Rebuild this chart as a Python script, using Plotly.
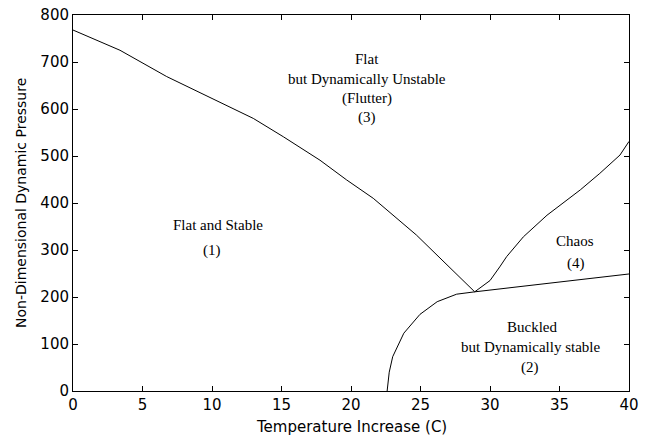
import plotly.graph_objects as go

# Flutter boundary (Flat stable -> Flutter)
flutter_x = [0, 3.38, 6.74, 10.58, 12.97, 15.13, 17.77, 19.69, 21.6, 24.7, 27.1, 28.9]
flutter_y = [768, 725, 669, 615, 580, 541, 491, 449, 410, 332, 264, 211]

# Buckling boundary
buckle_x = [22.6, 22.65, 22.75, 23.0, 23.8, 24.96, 26.2, 27.6, 28.9, 40]
buckle_y = [0, 20, 40, 73, 123, 163, 190, 206, 211, 249]

# Chaos boundary
chaos_x = [28.9, 30, 30.7, 31.2, 32.4, 34.1, 36.5, 37.9, 39.35, 40]
chaos_y = [211, 235, 264, 286, 328, 374, 428, 463, 502, 531]

# Region labels
label_text = ["Flat", "but Dynamically Unstable", "(Flutter)", "(3)",
              "Flat and Stable", "(1)",
              "Chaos", "(4)",
              "Buckled", "but Dynamically stable", "(2)"]
label_x = [21.15, 21.15, 21.15, 21.15, 10.43, 10.0, 36.1, 36.2, 33.0, 32.9, 32.9]
label_y = [706, 664, 623, 581, 353, 300, 319, 272, 136, 94, 51]

x_ticks = [0, 5, 10, 15, 20, 25, 30, 35, 40]
y_ticks = [0, 100, 200, 300, 400, 500, 600, 700, 800]

x_title = "Temperature Increase (C)"
y_title = "Non-Dimensional Dynamic Pressure"

SANS = "DejaVu Sans, Arial, sans-serif"
SERIF = "Liberation Serif, Times New Roman, serif"

fig = go.Figure()
line = dict(color="black", width=1)
for xs, ys in [(flutter_x, flutter_y), (buckle_x, buckle_y), (chaos_x, chaos_y)]:
    fig.add_trace(go.Scatter(x=xs, y=ys, mode="lines", line=line, showlegend=False,
                             hoverinfo="skip"))

for t, x, y in zip(label_text, label_x, label_y):
    fig.add_annotation(x=x, y=y, text=t, showarrow=False, xanchor="center", yanchor="middle",
                       font=dict(family=SERIF, size=15, color="black"))

# axis titles as paper-anchored annotations
fig.add_annotation(x=0.5, y=0, xref="paper", yref="paper", text=x_title, showarrow=False,
                   xanchor="center", yanchor="middle", yshift=-36,
                   font=dict(family=SANS, size=15, color="black"))
fig.add_annotation(x=0, y=0.5, xref="paper", yref="paper", text=y_title, showarrow=False,
                   xanchor="center", yanchor="middle", xshift=-52, textangle=-90,
                   font=dict(family=SANS, size=14, color="black"))

axis_common = dict(showgrid=False, zeroline=False, showline=True, linecolor="black",
                   linewidth=1, mirror="ticks", ticks="inside", ticklen=5, tickcolor="black",
                   tickwidth=1, automargin=False, ticklabeloverflow="allow",
                   tickfont=dict(family=SANS, size=15, color="black"))

fig.update_xaxes(range=[0, 40], tickvals=x_ticks, **axis_common)
fig.update_yaxes(range=[0, 800], tickvals=y_ticks, **axis_common)

fig.update_layout(width=646, height=438, margin=dict(l=73, r=17, t=15, b=47),
                  plot_bgcolor="white", paper_bgcolor="white", showlegend=False,
                  hovermode=False)

# remove the default 8px page margin so the figure fills the window exactly
fig.write_html("out.html", config={"displayModeBar": False},
               post_script="document.body.style.margin='0';")
